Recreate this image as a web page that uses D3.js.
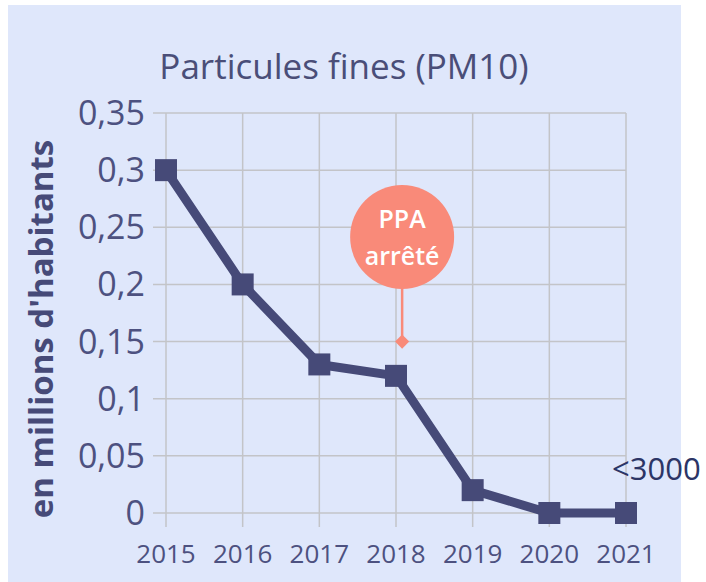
<!DOCTYPE html>
<html>
<head>
<meta charset="utf-8">
<script src="https://cdn.jsdelivr.net/npm/d3@7"></script>
<style>
  body { margin: 0; background: #fff; }
  text { font-family: "Open Sans", "DejaVu Sans", sans-serif; }
</style>
</head>
<body>
<script>
const width = 706;
const height = 582;

// données
const years = [2015, 2016, 2017, 2018, 2019, 2020, 2021];
const values = [0.3, 0.2, 0.13, 0.12, 0.02, 0, 0];
const yTicks = [0, 0.05, 0.1, 0.15, 0.2, 0.25, 0.3, 0.35];
const yTickLabels = ["0", "0,05", "0,1", "0,15", "0,2", "0,25", "0,3", "0,35"];
const annotYear = 2018.08;
const annotValue = 0.15;
const annotLines = ["PPA", "arrêté"];
const lastLabel = "<3000";

const svg = d3.select("body").append("svg").attr("width", width).attr("height", height);

// fond
svg.append("rect").attr("x", 8).attr("y", 5).attr("width", 673).attr("height", 577).attr("fill", "#dfe7fb");

const x = d3.scaleLinear().domain([2015, 2021]).range([166, 626]);
const y = d3.scaleLinear().domain([0, 0.35]).range([513, 113]);

// grille horizontale
svg.append("g").selectAll("line")
    .data(yTicks)
    .enter().append("line")
    .attr("x1", 153).attr("x2", x(2021))
    .attr("y1", d => y(d)).attr("y2", d => y(d))
    .attr("stroke", "#c3c4c8").attr("stroke-width", 1.5);

// grille verticale
svg.append("g").selectAll("line")
    .data(years)
    .enter().append("line")
    .attr("x1", d => x(d)).attr("x2", d => x(d))
    .attr("y1", y(0.35)).attr("y2", y(0) + 14)
    .attr("stroke", "#c3c4c8").attr("stroke-width", 1.5);

// labels axe y
svg.append("g").selectAll("text")
    .data(yTicks)
    .enter().append("text")
    .attr("x", 145).attr("y", d => y(d) + 12)
    .attr("text-anchor", "end")
    .attr("font-size", "34px")
    .attr("fill", "#4d5180")
    .text((d, i) => yTickLabels[i]);

// labels axe x
svg.append("g").selectAll("text")
    .data(years)
    .enter().append("text")
    .attr("x", d => x(d)).attr("y", 563)
    .attr("text-anchor", "middle")
    .attr("font-size", "26px")
    .attr("fill", "#4d5180")
    .text(d => d);

// titre
svg.append("text")
    .attr("x", 344).attr("y", 79)
    .attr("text-anchor", "middle")
    .attr("font-size", "35px")
    .attr("fill", "#4a4e78")
    .text("Particules fines (PM10)");

// titre axe y
svg.append("text")
    .attr("transform", "translate(53,329) rotate(-90)")
    .attr("text-anchor", "middle")
    .attr("font-size", "33px")
    .attr("font-weight", "bold")
    .attr("fill", "#464a78")
    .text("en millions d'habitants");

// ligne
const line = d3.line().x((d, i) => x(years[i])).y(d => y(d));
svg.append("path")
    .datum(values)
    .attr("d", line)
    .attr("fill", "none")
    .attr("stroke", "#464a78")
    .attr("stroke-width", 9)
    .attr("stroke-linejoin", "miter");

svg.append("g").selectAll("rect")
    .data(values)
    .enter().append("rect")
    .attr("x", (d, i) => x(years[i]) - 11)
    .attr("y", d => y(d) - 11)
    .attr("width", 22).attr("height", 22)
    .attr("fill", "#464a78");

// annotation PPA
const ax = x(annotYear);
const ay = y(annotValue);
const cy = 237;
svg.append("line")
    .attr("x1", ax).attr("x2", ax)
    .attr("y1", cy).attr("y2", ay)
    .attr("stroke", "#f98a79").attr("stroke-width", 2.5);
svg.append("rect")
    .attr("x", ax - 5).attr("y", ay - 5)
    .attr("width", 10).attr("height", 10)
    .attr("transform", `rotate(45,${ax},${ay})`)
    .attr("fill", "#f98a79");
svg.append("circle")
    .attr("cx", ax).attr("cy", cy).attr("r", 52)
    .attr("fill", "#f98a79");
svg.append("g").selectAll("text")
    .data(annotLines)
    .enter().append("text")
    .attr("x", ax).attr("y", (d, i) => 228 + i * 37)
    .attr("text-anchor", "middle")
    .attr("font-size", "25px")
    .attr("font-weight", "600")
    .attr("fill", "#fff")
    .text(d => d);

// label <3000
svg.append("text")
    .attr("x", 612).attr("y", 480)
    .attr("font-family", "'Liberation Sans', Arial, sans-serif")
    .attr("font-size", "31px")
    .attr("fill", "#2c3566")
    .text(lastLabel);
</script>
</body>
</html>
